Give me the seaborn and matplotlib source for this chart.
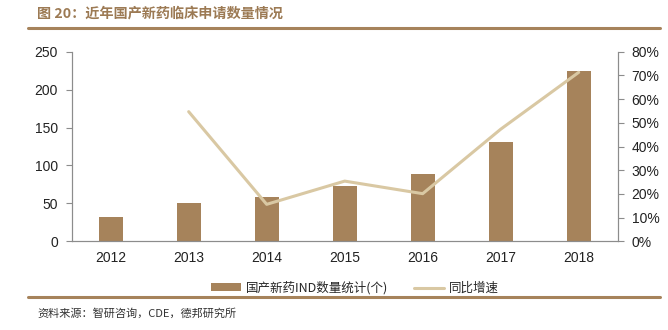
import numpy as np
import pandas as pd
import matplotlib
matplotlib.use("Agg")
import matplotlib.pyplot as plt
from matplotlib.lines import Line2D
from matplotlib.patches import Patch
import seaborn as sns

# Data
years = ["2012", "2013", "2014", "2015", "2016", "2017", "2018"]
ind_counts = [32, 50, 58, 73, 89, 131, 224]
growth_years = ["2013", "2014", "2015", "2016", "2017", "2018"]
growth_pct = [54.7, 15.6, 25.4, 20.1, 47.3, 71.3]

bar_label = "国产新药IND数量统计(个)"
line_label = "同比增速"
title = "图 20：近年国产新药临床申请数量情况"
source = "资料来源：智研咨询，CDE，德邦研究所"

BAR_COLOR = "#a6835b"
LINE_COLOR = "#d9c8a3"
RULE_COLOR = "#a6835b"
TITLE_COLOR = "#9c7a54"
AXIS_COLOR = "#8c8c8c"

sns.set_theme(style="white")
plt.rcParams["font.family"] = ["Liberation Sans", "Noto Sans CJK SC", "DejaVu Sans"]
cjk = ["Noto Sans CJK SC", "DejaVu Sans"]

fig = plt.figure(figsize=(6.68, 3.30), dpi=100)
ax = fig.add_axes([0.1073, 0.2688, 0.8174, 0.5745])

df_bar = pd.DataFrame({"year": years, "count": ind_counts})
sns.barplot(data=df_bar, x="year", y="count", color=BAR_COLOR, width=0.31,
            saturation=1, ax=ax, edgecolor="none")
ax.set_xlim(-0.5, len(years) - 0.5)
ax.set_ylim(0, 250)
ax.set_yticks(np.arange(0, 251, 50))
ax.set_xlabel("")
ax.set_ylabel("")

ax2 = ax.twinx()
pos = [years.index(y) for y in growth_years]
sns.lineplot(x=pos, y=growth_pct, ax=ax2, color=LINE_COLOR, linewidth=2.2)
ax2.set_ylim(0, 80)
ax2.set_yticks(np.arange(0, 81, 10))
ax2.set_yticklabels([f"{v}%" for v in range(0, 81, 10)])
ax2.set_xlim(-0.5, len(years) - 0.5)

for a in (ax, ax2):
    for s in a.spines.values():
        s.set_color(AXIS_COLOR)
        s.set_linewidth(0.8)
    a.spines["top"].set_visible(False)
    a.tick_params(axis="y", direction="out", length=4, width=0.8,
                  color=AXIS_COLOR, labelsize=10, labelcolor="#222222", pad=6)

ax.tick_params(axis="x", which="major", length=0, labelsize=10,
               labelcolor="#222222", pad=7)
ax.set_xticks(np.arange(-0.5, len(years)), minor=True)
ax.tick_params(axis="x", which="minor", direction="out", length=4, width=0.8,
               color=AXIS_COLOR)
ax.tick_params(axis="y", left=True)
ax2.tick_params(axis="y", right=True)

# Title and rules
fig.text(37 / 668, 1 - 14 / 330, title, fontsize=10.2, fontweight="bold",
         color=TITLE_COLOR, family=cjk, va="center", ha="left")
fig.add_artist(Line2D([28 / 668, 660 / 668], [1 - 28 / 330] * 2,
                      color=RULE_COLOR, linewidth=2.2))
fig.add_artist(Line2D([28 / 668, 660 / 668], [1 - 297 / 330] * 2,
                      color=RULE_COLOR, linewidth=2.2))
fig.text(37 / 668, 1 - 313 / 330, source, fontsize=8, color="#333333",
         family=cjk, va="center", ha="left")

# Legend
handles = [Patch(facecolor=BAR_COLOR, edgecolor="none", label=bar_label),
           Line2D([0], [0], color=LINE_COLOR, linewidth=2.2, label=line_label)]
fig.legend(handles=handles, loc="center", bbox_to_anchor=(355 / 668, 1 - 288 / 330),
           ncol=2, frameon=False, handlelength=2.4, handleheight=0.6,
           columnspacing=2.0, handletextpad=0.4,
           prop={"family": cjk, "size": 9})

fig.savefig("out.png", dpi=100)
